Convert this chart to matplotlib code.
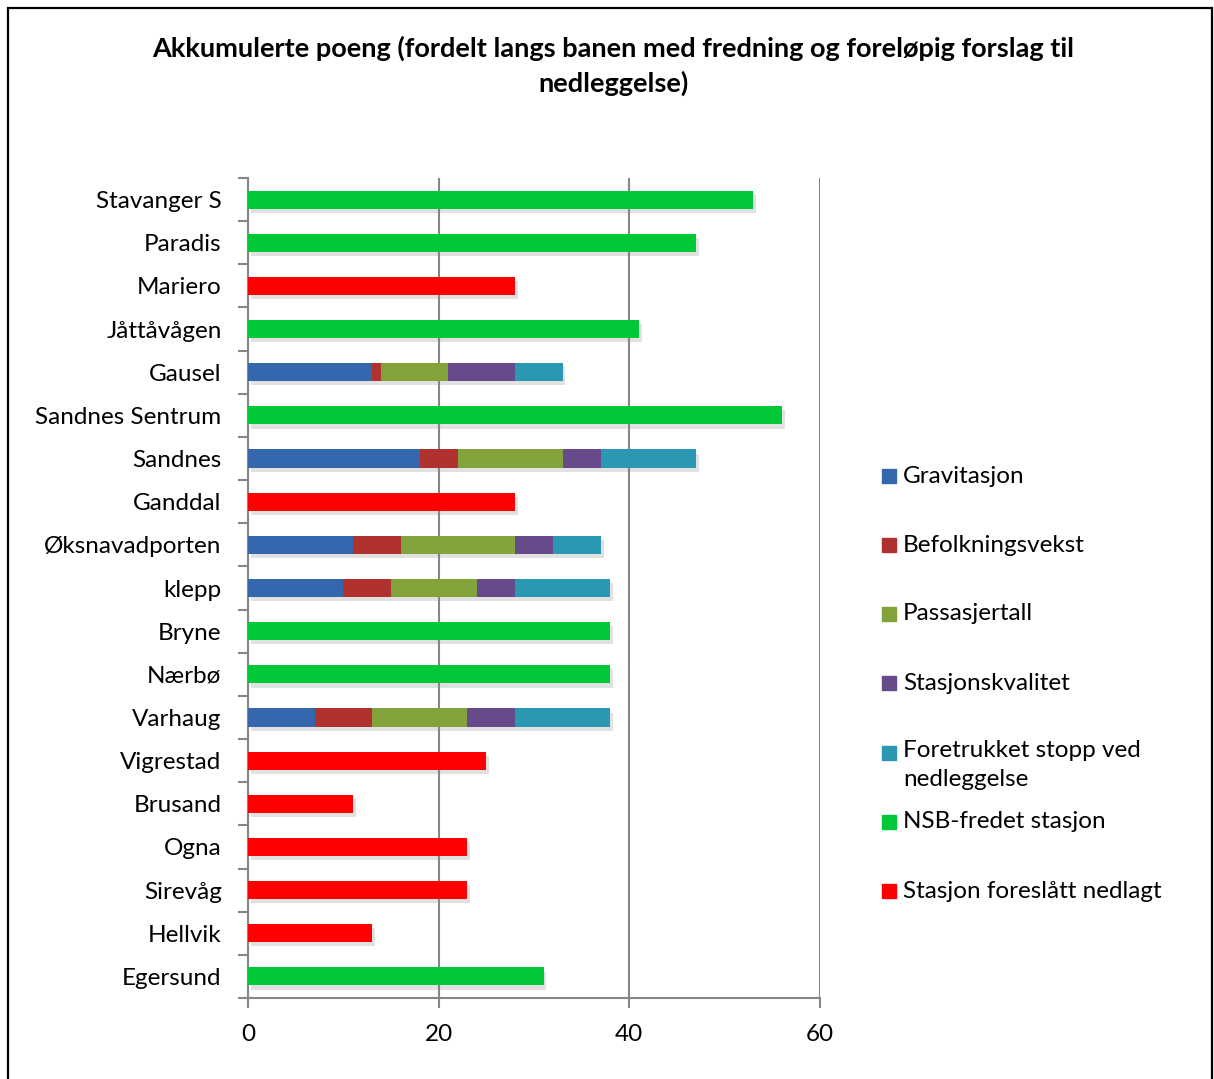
import matplotlib.pyplot as plt
import matplotlib.patheffects as pe
import numpy as np
from matplotlib.patches import Rectangle

plt.rcParams['font.family'] = ['Lato', 'DejaVu Sans']

# Stations along the line, top to bottom
stations = ["Stavanger S", "Paradis", "Mariero", "Jåttåvågen", "Gausel",
            "Sandnes Sentrum", "Sandnes", "Ganddal", "Øksnavadporten", "klepp",
            "Bryne", "Nærbø", "Varhaug", "Vigrestad", "Brusand", "Ogna",
            "Sirevåg", "Hellvik", "Egersund"]

# Points per criterion (stacked)
gravitasjon      = [0, 0, 0, 0, 13, 0, 18, 0, 11, 10, 0, 0, 7, 0, 0, 0, 0, 0, 0]
befolkningsvekst = [0, 0, 0, 0, 1, 0, 4, 0, 5, 5, 0, 0, 6, 0, 0, 0, 0, 0, 0]
passasjertall    = [0, 0, 0, 0, 7, 0, 11, 0, 12, 9, 0, 0, 10, 0, 0, 0, 0, 0, 0]
stasjonskvalitet = [0, 0, 0, 0, 7, 0, 4, 0, 4, 4, 0, 0, 5, 0, 0, 0, 0, 0, 0]
foretrukket      = [0, 0, 0, 0, 5, 0, 10, 0, 5, 10, 0, 0, 10, 0, 0, 0, 0, 0, 0]
nsb_fredet       = [53, 47, 0, 41, 0, 56, 0, 0, 0, 0, 38, 38, 0, 0, 0, 0, 0, 0, 31]
foreslatt_nedlagt = [0, 0, 28, 0, 0, 0, 0, 28, 0, 0, 0, 0, 0, 25, 11, 23, 23, 13, 0]

series = [
    ("Gravitasjon", gravitasjon, "#3467ae"),
    ("Befolkningsvekst", befolkningsvekst, "#b0322f"),
    ("Passasjertall", passasjertall, "#82a33c"),
    ("Stasjonskvalitet", stasjonskvalitet, "#674a8a"),
    ("Foretrukket stopp ved\nnedleggelse", foretrukket, "#2a97b3"),
    ("NSB-fredet stasjon", nsb_fredet, "#00c837"),
    ("Stasjon foreslått nedlagt", foreslatt_nedlagt, "#ff0000"),
]

W, H = 1214, 1079
fig = plt.figure(figsize=(W / 100, H / 100), dpi=100)
ax = fig.add_axes([248 / W, 81 / H, 572 / W, 820 / H])

y = np.arange(len(stations))
left = np.zeros(len(stations))
shadow = [pe.SimplePatchShadow(offset=(2, -3), shadow_rgbFace="#888888", alpha=0.25),
          pe.Normal()]
for name, vals, color in series:
    vals = np.array(vals, dtype=float)
    bars = ax.barh(y, vals, left=left, height=0.42, color=color, zorder=3)
    for b in bars:
        b.set_path_effects(shadow)
    left += vals

ax.set_ylim(len(stations) - 0.5, -0.5)
ax.set_xlim(0, 60)
ax.set_xticks([0, 20, 40, 60])
ax.set_yticks(y)
ax.set_yticklabels(stations, fontsize=17.5)
ax.set_yticks(np.arange(-0.5, len(stations)), minor=True)
ax.tick_params(axis="y", which="major", length=0, pad=19)
ax.tick_params(axis="y", which="minor", length=7, width=1.5, color="#868686")
ax.tick_params(axis="x", length=7, width=1.5, color="#868686", labelsize=17.5, pad=12)

ax.grid(axis="x", color="#868686", linewidth=1.5, zorder=0)
for side in ("top", "right"):
    ax.spines[side].set_visible(False)
for side in ("left", "bottom"):
    ax.spines[side].set_color("#868686")
    ax.spines[side].set_linewidth(1.5)

fig.text(613 / W, 1 - 66 / H,
         "Akkumulerte poeng (fordelt langs banen med fredning og foreløpig forslag til\nnedleggelse)",
         ha="center", va="center", fontsize=19.5, fontweight="bold", linespacing=1.45)

# Legend drawn by hand so the two-line entry keeps the even spacing
legend_y = [476, 545, 614, 683, 753, 822, 891]
for (name, vals, color), ly in zip(series, legend_y):
    fig.patches.append(Rectangle((882 / W, 1 - (ly + 7) / H), 14 / W, 14 / H,
                                 transform=fig.transFigure, color=color))
    if "\n" in name:
        fig.text(903 / W, 1 - (ly - 13) / H, name, ha="left", va="top",
                 fontsize=17.5, linespacing=1.45)
    else:
        fig.text(903 / W, 1 - ly / H, name, ha="left", va="center", fontsize=17.5)

# Outer chart border
fig.patches.append(Rectangle((8 / W, -0.01), 1204 / W, 1 - 8 / H + 0.01,
                             transform=fig.transFigure, fill=False, edgecolor="black",
                             linewidth=1.6))

fig.savefig("out.png", dpi=100)
